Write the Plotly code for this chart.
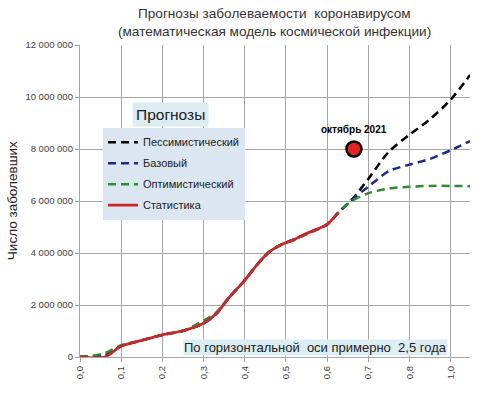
import plotly.graph_objects as go

# ---- data ----
stat_x = [0.0, 0.06, 0.1, 0.15, 0.2, 0.25, 0.3, 0.33, 0.36, 0.4, 0.43, 0.46, 0.49, 0.52, 0.55, 0.6, 0.627]
stat_y = [0, 0, 420000, 640000, 850000, 1010000, 1300000, 1650000, 2250000, 2950000, 3550000, 4050000, 4330000, 4520000, 4750000, 5100000, 5550000]

base_x = [0.0, 0.03, 0.06, 0.1, 0.15, 0.2, 0.25, 0.3, 0.33, 0.36, 0.4, 0.43, 0.46, 0.49, 0.52, 0.55, 0.6, 0.627]
opt_base_y = [0, 50000, 150000, 450000, 640000, 850000, 1000000, 1400000, 1700000, 2250000, 2950000, 3550000, 4050000, 4330000, 4500000, 4720000, 5100000, 5550000]
common_y = [0, 30000, 60000, 420000, 640000, 850000, 1010000, 1300000, 1650000, 2250000, 2950000, 3550000, 4050000, 4330000, 4520000, 4750000, 5100000, 5550000]

fc_x = [0.66, 0.70, 0.75, 0.80, 0.85, 0.90, 0.947]
pess_fc = [6050000, 6850000, 7900000, 8550000, 9150000, 9900000, 10850000]
base_fc = [6050000, 6550000, 7150000, 7400000, 7620000, 7950000, 8300000]
opt_fc = [6000000, 6300000, 6480000, 6550000, 6580000, 6580000, 6570000]

names = ["Пессимистический", "Базовый", "Оптимистический", "Статистика"]
colors = ["#000000", "#1c2a8a", "#2e8b2e", "#c8282a"]

tick_vals_x = [0, 0.1, 0.2, 0.3, 0.4, 0.5, 0.6, 0.7, 0.8, 0.9]
tick_text_x = ["0,0", "0,1", "0,2", "0,3", "0,4", "0,5", "0,6", "0,7", "0,8", "1,0"]
tick_vals_y = [0, 2000000, 4000000, 6000000, 8000000, 10000000, 12000000]
tick_text_y = ["0", "2 000 000", "4 000 000", "6 000 000", "8 000 000", "10 000 000", "12 000 000"]

event_x = [0.665]
event_y = [8000000]
event_label = "октябрь 2021"

title_line1 = "Прогнозы заболеваемости  коронавирусом"
title_line2 = "(математическая модель космической инфекции)"
y_title = "Число заболевших"
legend_title = "Прогнозы"
note_text = "По горизонтальной  оси примерно  2,5 года"

FONT = "Liberation Sans"

fig = go.Figure()
series = [
    (base_x + fc_x, common_y + pess_fc),
    (base_x + fc_x, common_y + base_fc),
    (base_x + fc_x, opt_base_y + opt_fc),
]
for i in range(3):
    fig.add_trace(go.Scatter(
        x=series[i][0], y=series[i][1], mode="lines", name=names[i],
        legendgroup=str(i),
        line=dict(color=colors[i], width=2.5, dash="8px,5px", shape="spline", smoothing=0.8),
    ))
fig.add_trace(go.Scatter(
    x=stat_x, y=stat_y, mode="lines", name=names[3], legendgroup="3",
    line=dict(color=colors[3], width=2.8, shape="spline", smoothing=0.8),
))
fig.add_trace(go.Scatter(
    x=event_x, y=event_y, mode="markers", showlegend=False,
    marker=dict(size=15, color="#e52421", line=dict(color="#000000", width=2.5)),
))

fig.update_layout(
    width=490, height=393,
    margin=dict(l=80, r=20, t=45, b=36),
    paper_bgcolor="white", plot_bgcolor="white",
    font=dict(family=FONT, color="#333333"),
    showlegend=True,
    legend=dict(x=0.059, y=0.735, xanchor="left", yanchor="top",
                bgcolor="#dce6f1", font=dict(size=11, color="#222222", family=FONT),
                tracegroupgap=2, itemwidth=30),
)
fig.update_xaxes(range=[0, 0.9468], tickvals=tick_vals_x, ticktext=tick_text_x,
                 tickangle=-90, tickfont=dict(size=9.5, color="#404040"),
                 showgrid=True, gridcolor="#a6a6a6", gridwidth=1.3,
                 showline=True, linecolor="#a6a6a6", linewidth=1.3,
                 ticks="outside", ticklen=4, tickcolor="#a6a6a6", zeroline=False)
fig.update_yaxes(range=[0, 12000000], tickvals=tick_vals_y, ticktext=tick_text_y,
                 tickfont=dict(size=9.5, color="#404040"),
                 showgrid=True, gridcolor="#a6a6a6", gridwidth=1.3,
                 showline=True, linecolor="#a6a6a6", linewidth=1.3,
                 ticks="outside", ticklen=4, tickcolor="#a6a6a6", zeroline=False)

fig.add_annotation(x=0.499, y=1.101, xref="paper", yref="paper", text=title_line1,
                   showarrow=False, xanchor="center", yanchor="middle",
                   font=dict(size=13.6, color="#333333", family=FONT))
fig.add_annotation(x=0.499, y=1.042, xref="paper", yref="paper", text=title_line2,
                   showarrow=False, xanchor="center", yanchor="middle",
                   font=dict(size=13.6, color="#333333", family=FONT))
fig.add_annotation(x=-0.174, y=0.5, xref="paper", yref="paper", text=y_title,
                   textangle=-90, showarrow=False, xanchor="center", yanchor="middle",
                   font=dict(size=13.5, color="#222222", family=FONT))
fig.add_annotation(x=0.231, y=0.776, xref="paper", yref="paper", text=legend_title,
                   showarrow=False, xanchor="center", yanchor="middle",
                   bgcolor="#dbecf2", borderpad=3,
                   font=dict(size=15.5, color="#222222", family=FONT))
fig.add_annotation(x=0.604, y=0.032, xref="paper", yref="paper", text=note_text,
                   showarrow=False, xanchor="center", yanchor="middle",
                   bgcolor="#dbecf2", borderpad=0,
                   font=dict(size=13, color="#222222", family=FONT))
fig.add_annotation(x=event_x[0], y=event_y[0], text=event_label, showarrow=False,
                   yshift=20, font=dict(size=10, color="#000000", family=FONT, weight="bold"))

fig.write_html("out.html", post_script="document.body.style.margin='0';",
               config={"displayModeBar": False})
